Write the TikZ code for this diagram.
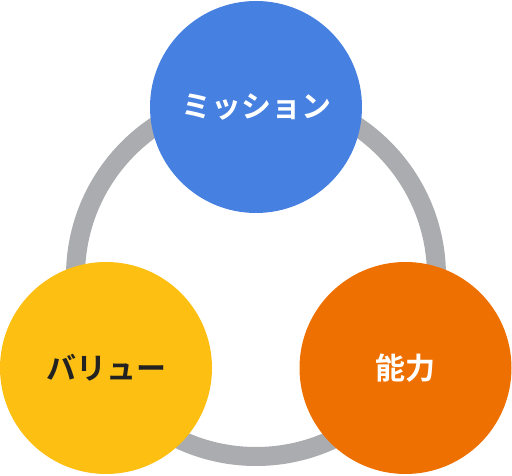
\documentclass[tikz,border=0pt]{standalone}
\usepackage{fontspec}
\newfontfamily\cjk{Noto Sans CJK JP}[BoldFont={Noto Sans CJK JP Bold}]
\definecolor{cblue}{HTML}{4680E0}
\definecolor{cyellow}{HTML}{FCBF12}
\definecolor{corange}{HTML}{EE7000}
\definecolor{cgrey}{HTML}{ABACAF}
\definecolor{ctext}{HTML}{222222}
\begin{document}
\begin{tikzpicture}[x=1pt,y=1pt,
  ball/.style={circle,minimum size=212pt,inner sep=0pt,font=\cjk\bfseries\fontsize{30}{30}\selectfont},
  ring/.style={draw=cgrey,line width=19pt}]
\useasboundingbox (0,0) rectangle (512,476);
\coordinate (c) at (256,200);
\draw[ring] (c) circle[radius=180.5];
\node[ball,fill=cblue,text=white] (mission) at (256,369) {ミッション};
\node[ball,fill=cyellow,text=ctext] (value) at (106,108) {バリュー};
\node[ball,fill=corange,text=white] (ability) at (405.5,108) {能力};
\end{tikzpicture}
\end{document}
